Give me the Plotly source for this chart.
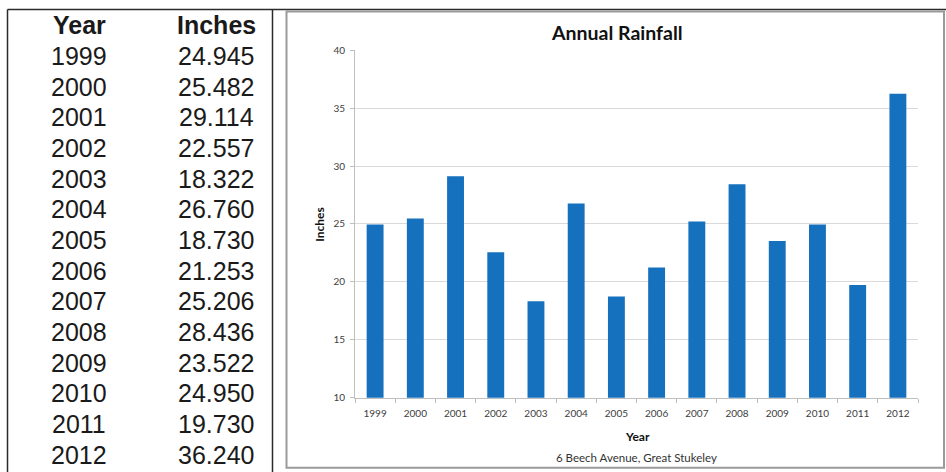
import plotly.graph_objects as go

# ---- data ----
years = ["1999", "2000", "2001", "2002", "2003", "2004", "2005",
         "2006", "2007", "2008", "2009", "2010", "2011", "2012"]
inches = [24.945, 25.482, 29.114, 22.557, 18.322, 26.760, 18.730,
          21.253, 25.206, 28.436, 23.522, 24.950, 19.730, 36.240]
table_headers = ["Year", "Inches"]
chart_title = "Annual Rainfall"
x_title = "Year"
y_title = "Inches"
subtitle = "6 Beech Avenue, Great Stukeley"
y_ticks = [10, 15, 20, 25, 30, 35, 40]

W, H = 946, 472
# vertical compensation for the capture (observed y_shot = A*y_page + B)
A, B = 0.976, 5.0


def px(x):
    return x / W


def py(y):
    return 1 - ((y - B) / A) / H


BAR = "#1570BE"
CHART_FONT = "Lato"

fig = go.Figure()
fig.add_trace(go.Bar(x=years, y=inches, marker=dict(color=BAR, line=dict(width=0)),
                     hoverinfo="x+y"))

shapes = []
dark = "#2b2b2b"
shapes.append(dict(type="line", xref="paper", yref="paper", x0=px(7.5), x1=px(946), y0=py(8.5), y1=py(8.5),
                   line=dict(color=dark, width=1.5)))
shapes.append(dict(type="line", xref="paper", yref="paper", x0=px(7.5), x1=px(7.5), y0=py(8.5), y1=py(480),
                   line=dict(color=dark, width=1.5)))
shapes.append(dict(type="line", xref="paper", yref="paper", x0=px(272.5), x1=px(272.5), y0=py(8.5), y1=py(480),
                   line=dict(color=dark, width=1.5)))
gray = "#9a9a9a"
shapes.append(dict(type="rect", xref="paper", yref="paper", x0=px(286.5), x1=px(944), y0=py(10.5), y1=py(467.5),
                   line=dict(color=gray, width=2), fillcolor="rgba(0,0,0,0)"))

annotations = []
row0 = 24.5
step = 30.7
TFONT = "Liberation Sans, Arial, sans-serif"
TSIZE = 25
annotations.append(dict(text="<b>%s</b>" % table_headers[0], x=px(79), y=py(row0), xref="paper", yref="paper",
                        showarrow=False, xanchor="center", yanchor="middle",
                        font=dict(family=TFONT, size=TSIZE, color="#1a1a1a")))
annotations.append(dict(text="<b>%s</b>" % table_headers[1], x=px(258), y=py(row0), xref="paper", yref="paper",
                        showarrow=False, xanchor="right", yanchor="middle",
                        font=dict(family=TFONT, size=TSIZE, color="#1a1a1a")))
for i, (yr, v) in enumerate(zip(years, inches)):
    yc = row0 + (i + 1) * step
    annotations.append(dict(text=yr, x=px(79), y=py(yc), xref="paper", yref="paper",
                            showarrow=False, xanchor="center", yanchor="middle",
                            font=dict(family=TFONT, size=TSIZE, color="#1a1a1a")))
    annotations.append(dict(text="%.3f" % v, x=px(256), y=py(yc), xref="paper", yref="paper",
                            showarrow=False, xanchor="right", yanchor="middle",
                            font=dict(family=TFONT, size=TSIZE, color="#1a1a1a")))

# chart title, axis titles, subtitle
annotations.append(dict(text="<b>%s</b>" % chart_title, x=px(616.5), y=py(31.5), xref="paper", yref="paper",
                        showarrow=False, xanchor="center", yanchor="middle",
                        font=dict(family=CHART_FONT, size=19.5, color="#111111")))
annotations.append(dict(text="<b>%s</b>" % y_title, x=px(320), y=py(224), xref="paper", yref="paper",
                        showarrow=False, xanchor="center", yanchor="middle", textangle=-90,
                        font=dict(family=CHART_FONT, size=12, color="#111111")))
annotations.append(dict(text="<b>%s</b>" % x_title, x=px(637), y=py(436.5), xref="paper", yref="paper",
                        showarrow=False, xanchor="center", yanchor="middle",
                        font=dict(family=CHART_FONT, size=12, color="#111111")))
annotations.append(dict(text=subtitle, x=px(636.5), y=py(457.5), xref="paper", yref="paper",
                        showarrow=False, xanchor="center", yanchor="middle",
                        font=dict(family=CHART_FONT, size=11.5, color="#333333")))

fig.update_layout(
    width=W, height=H,
    margin=dict(l=0, r=0, t=0, b=0),
    paper_bgcolor="white", plot_bgcolor="white",
    showlegend=False,
    bargap=0.58,
    shapes=shapes,
    annotations=annotations,
    xaxis=dict(domain=[px(355), px(918)], type="category",
               showline=True, linecolor="#bfbfbf", linewidth=1,
               ticks="outside", tickson="boundaries", ticklen=4, tickcolor="#bfbfbf",
               ticklabelstandoff=6,
               showgrid=False, zeroline=False,
               tickfont=dict(family=CHART_FONT, size=10, color="#404040")),
    yaxis=dict(domain=[py(397.3), py(49.3)], range=[10, 40],
               tickvals=y_ticks,
               showline=True, linecolor="#bfbfbf", linewidth=1,
               ticks="outside", ticklen=4, tickcolor="#bfbfbf",
               ticklabelstandoff=3,
               showgrid=True, gridcolor="#d9d9d9", gridwidth=1, zeroline=False,
               tickfont=dict(family=CHART_FONT, size=10, color="#404040")),
)

fig.write_html("out.html",
               config={"displayModeBar": False},
               post_script="document.documentElement.style.overflow='hidden';"
                           "document.body.style.margin='0px';document.body.style.overflow='hidden';")
